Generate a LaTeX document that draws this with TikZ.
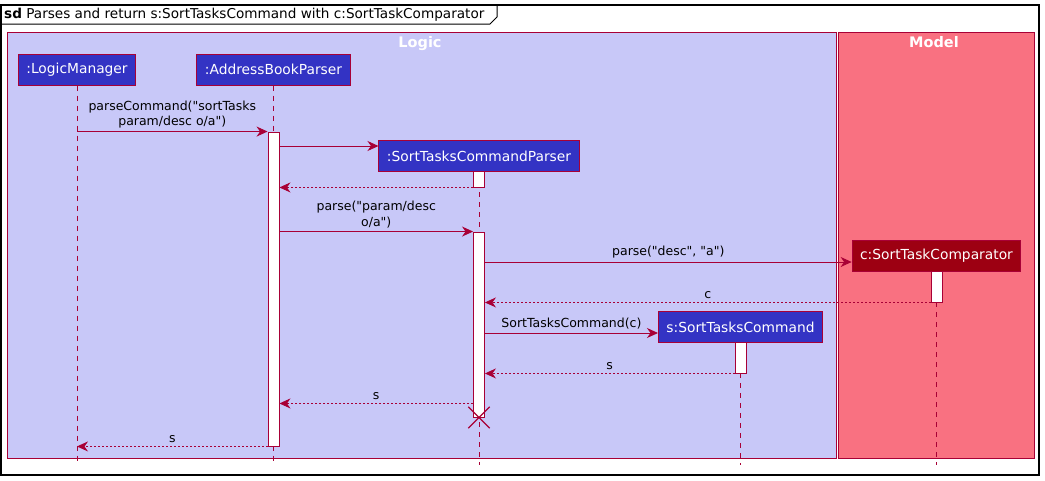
\documentclass[tikz,border=0pt]{standalone}
\usepackage{fontspec}
\setmainfont{DejaVu Sans}
\usepackage{tikz}
\usetikzlibrary{arrows.meta}
\usetikzlibrary{shapes.misc}

\definecolor{umlred}{HTML}{A80036}
\definecolor{logicfill}{HTML}{C8C8F8}
\definecolor{modelfill}{HTML}{F97181}
\definecolor{partblue}{HTML}{3333C4}
\definecolor{cmpred}{HTML}{9D0012}
\newcommand{\q}{\textquotedbl}

\begin{document}
\begin{tikzpicture}[x=1pt, y=-1pt,
  every node/.style = {align=center, inner sep=0pt},
  part/.style = {draw=umlred, fill=partblue, text=white, line width=1pt,
    font=\fontsize{13.8}{16}\selectfont, minimum height=31, inner xsep=8pt},
  act/.style = {draw=umlred, fill=white, minimum width=11, line width=0.9pt},
  life/.style = {draw=umlred, line width=0.8pt, dash pattern=on 5pt off 5pt},
  msg/.style = {draw=umlred, line width=0.9pt, -{Stealth[length=11pt,width=10pt,inset=3.5pt]}},
  ret/.style = {msg, dash pattern=on 2pt off 2pt},
  lbl/.style = {font=\fontsize{12.5}{15.5}\selectfont, above=3pt},
  pkg/.style = {draw=umlred, line width=1pt},
  pkgtitle/.style = {text=white, anchor=base, font=\bfseries\fontsize{14.5}{16}\selectfont}]
  \useasboundingbox (0,0) rectangle (1045,480);
  % frame and packages
  \draw[line width=1.2pt] (1,5) rectangle (1039,475);
  \draw[line width=1pt] (1,5) -- (497,5) -- (497,17) -- (490,24) -- (1,24);
  \node[anchor=west, font=\fontsize{13.6}{15}\selectfont] (title) at (4,14.5)
    {\textbf{sd} Parses and return s:SortTasksCommand with c:SortTaskComparator};
  \draw[pkg, fill=logicfill] (7,32) rectangle (836,458);
  \draw[pkg, fill=modelfill] (838,32) rectangle (1034,458);
  \node[pkgtitle] (logic) at (420,47.5) {Logic};
  \node[pkgtitle] (model) at (934,47.5) {Model};

  % participants
  \node[part] (lm) at (77,69.5) {:LogicManager};
  \node[part] (abp) at (273.5,69.5) {:AddressBookParser};
  \node[part] (stcp) at (479,156) {:SortTasksCommandParser};
  \node[part, fill=cmpred] (cmp) at (936.5,256) {c:SortTaskComparator};
  \node[part] (stc) at (740.5,327) {s:SortTasksCommand};
  \foreach \p in {lm,abp,stcp,cmp,stc}
    \draw[life] (\p.south) -- (\p.south |- 0,465);

  % activations
  \node[act, minimum height=314] (abpAct) at (abp.south |- 0,289) {};
  \node[act, minimum height=16] (stcpAct1) at (stcp.south |- 0,179) {};
  \node[act, minimum height=185] (stcpAct2) at (stcp.south |- 0,324.5) {};
  \node[act, minimum height=31] (cmpAct) at (cmp.south |- 0,286.5) {};
  \node[act, minimum height=31] (stcAct) at (stc.south |- 0,357.5) {};

  % messages
  \draw[msg] (lm.south |- abpAct.north) -- (abpAct.north west)
    node[lbl, midway] {parseCommand(\q sortTasks\\param/desc o/a\q)};
  \coordinate (newParser) at ([yshift=10pt]stcp.west);
  \draw[msg] (abpAct.east |- newParser) -- (newParser);
  \draw[ret] (stcpAct1.south west) -- (abpAct.east |- stcpAct1.south);
  \draw[msg] (abpAct.east |- stcpAct2.north) -- (stcpAct2.north west)
    node[lbl, midway] {parse(\q param/desc\\o/a\q)};
  \coordinate (newCmp) at ([yshift=-6pt]cmp.west);
  \draw[msg] (stcpAct2.east |- newCmp) -- (newCmp)
    node[lbl, midway] {parse(\q desc\q, \q a\q)};
  \draw[ret] (cmpAct.south west) -- (stcpAct2.east |- cmpAct.south)
    node[lbl, midway] {c};
  \coordinate (newCmd) at ([yshift=-6pt]stc.west);
  \draw[msg] (stcpAct2.east |- newCmd) -- (newCmd)
    node[lbl, midway] {SortTasksCommand(c)};
  \draw[ret] (stcAct.south west) -- (stcpAct2.east |- stcAct.south)
    node[lbl, midway] {s};
  \coordinate (parserDone) at ([yshift=14pt]stcpAct2.south west);
  \draw[ret] (parserDone) -- (abpAct.east |- parserDone)
    node[lbl, midway] {s};
  \node[draw=umlred, cross out, minimum size=20, line width=1.3pt] (kill) at (stcpAct2.south) {};
  \draw[ret] (abpAct.south west) -- (lm.south |- abpAct.south)
    node[lbl, midway] {s};
\end{tikzpicture}
\end{document}
